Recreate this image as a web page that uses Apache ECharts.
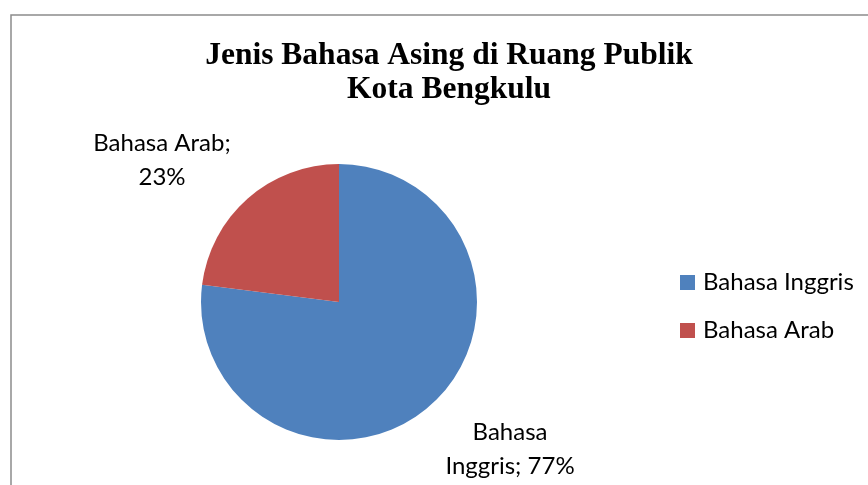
<!DOCTYPE html>
<html><head><meta charset="utf-8">
<script src="https://cdn.jsdelivr.net/npm/echarts@6/dist/echarts.min.js"></script>
<style>html,body{margin:0;padding:0;background:#fff}#c{width:868px;height:485px}</style>
</head><body><div id="c"></div>
<script>
const categories = ['Bahasa Inggris', 'Bahasa Arab'];
const values = [77, 23];
const labelTexts = ['Bahasa\nInggris; 77%', 'Bahasa Arab;\n23%'];
const colors = ['#4F81BD', '#C0504D'];
const titleText = 'Jenis Bahasa Asing di Ruang Publik\nKota Bengkulu';

const labelPos = [[510, 449], [162, 160]];
const chart = echarts.init(document.getElementById('c'));
chart.setOption({
  animation: false,
  backgroundColor: '#fff',
  title: {
    text: titleText, left: 444, top: 34, textAlign: 'center',
    textStyle: { fontFamily: 'Liberation Serif', fontWeight: 'bold', fontSize: 31.5, color: '#000', lineHeight: 34 }
  },
  graphic: [{ type: 'rect', shape: { x: 11, y: 15, width: 900, height: 520 },
    style: { fill: 'none', stroke: '#8c8c8c', lineWidth: 1.5 }, silent: true }],
  legend: {
    orient: 'vertical', left: 675, top: 262.5, itemWidth: 15, itemHeight: 15, itemGap: 18,
    icon: 'rect', itemStyle: { borderWidth: 0 },
    textStyle: { fontFamily: 'Lato', fontSize: 24, lineHeight: 30, color: '#000', padding: [0, 0, 0, 3] },
    data: categories
  },
  series: [{
    type: 'pie', center: [339, 302], radius: 138, startAngle: 90, clockwise: true,
    data: categories.map((c, i) => ({ name: c, value: values[i], itemStyle: { color: colors[i] } })),
    label: { show: true, position: 'outside', formatter: p => labelTexts[p.dataIndex],
      fontFamily: 'Lato', fontSize: 24, color: '#000', lineHeight: 34, align: 'center' },
    labelLine: { show: false },
    labelLayout: p => ({ x: labelPos[p.dataIndex][0], y: labelPos[p.dataIndex][1], align: 'center', verticalAlign: 'middle' }),
    emphasis: { disabled: true }
  }]
});
</script></body></html>
